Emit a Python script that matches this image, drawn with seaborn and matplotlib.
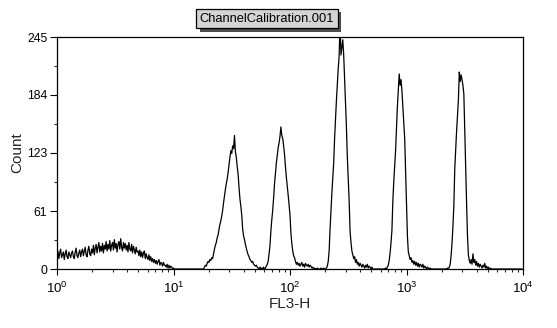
import numpy as np
import pandas as pd
import matplotlib
matplotlib.use("Agg")
import matplotlib.pyplot as plt
import matplotlib.patheffects as pe
import seaborn as sns
from matplotlib.ticker import FixedLocator, LogLocator, NullFormatter

# ---------------- data (1024-channel log histogram, 4 decades) ----------------
title_text = "ChannelCalibration.001"
x_label = "FL3-H"
y_label = "Count"
y_ticks = [0, 61, 123, 184, 245]
n_channels = 1024
n_decades = 4

# segments: start channel, counts every 2 channels
low_start = 0
low_counts = [13, 19, 11, 17, 21, 12, 15, 18, 10, 16, 20, 13, 11, 18, 15, 12, 17,
              19, 13, 11, 18, 22, 14, 12, 17, 20, 13, 18,
              21, 14, 19, 23, 15, 13, 20, 24, 16, 14, 21, 17, 25, 15,
              22, 26, 17, 23, 28, 18, 24, 19, 27, 17, 25, 21, 29, 19,
              26, 21, 30, 19, 25, 28, 20, 31, 22, 27, 18, 26, 29, 21, 32, 23, 19, 28, 22,
              27, 20, 25, 18, 28, 21, 19, 26, 17, 24, 20, 16, 23, 18,
              19, 14, 20, 13, 18, 12, 17, 19, 11, 16, 12, 10, 15, 9, 13, 8,
              11, 7, 10, 6, 9, 5, 8, 10, 4, 7, 6, 3, 7, 4,
              4, 2, 5, 1, 4, 1, 3, 2, 0, 1, 0, 0]

p1_start = 322
p1_counts = [0, 2, 4, 3, 6, 8, 7, 10, 9, 12, 11, 16, 21, 25, 28, 33, 36, 42, 47, 51,
             56, 62, 70, 77, 84, 90, 95, 102, 110, 118, 125, 122, 130, 127, 141, 124,
             118, 108, 100, 86, 74, 66, 57, 42, 35, 31, 26, 22, 18, 15, 13, 10, 9, 7,
             8, 5, 4, 3, 4, 2, 1, 0, 2, 0, 1, 0, 2, 0]

p2_start = 458
p2_counts = [1, 3, 5, 8, 16, 25, 40, 52, 62, 75, 90, 101, 112, 120, 128, 133, 140,
             150, 141, 138, 130, 121, 108, 97, 88, 78, 67, 57, 38, 27, 19, 14, 12, 8,
             5, 7, 4, 6, 3, 5, 7, 3, 5, 2, 6, 4, 3, 5, 2, 4, 3, 1, 2, 0, 1, 0, 0, 1,
             0, 0, 0, 1, 0, 0, 1, 0, 0]

p3_start = 592
p3_counts = [1, 3, 8, 19, 42, 62, 80, 97, 112, 138, 158, 178, 195, 212, 225, 262,
             226, 234, 242, 226, 200, 174, 150, 118, 95, 72, 40, 28, 19, 15, 11, 13,
             7, 10, 5, 7, 3, 6, 4, 2, 5, 3, 1, 4, 2, 5, 1, 3, 2, 0, 2, 0]

p4_start = 720
p4_counts = [0, 1, 0, 2, 4, 9, 17, 28, 41, 72, 92, 108, 125, 148, 172, 190, 206,
             194, 200, 188, 171, 155, 138, 105, 70, 35, 18, 14, 10, 12, 7, 9, 5, 8,
             4, 7, 3, 6, 2, 5, 4, 2, 5, 1, 3, 2, 0, 2, 1, 0, 1, 0]

p5_start = 856
p5_counts = [0, 1, 0, 2, 5, 14, 27, 45, 66, 105, 125, 145, 162, 178, 208, 198, 205,
             200, 194, 185, 146, 110, 70, 35, 15, 9, 6, 10, 5, 16, 7, 10, 4, 8, 3, 6,
             2, 5, 3, 1, 4, 2, 6, 1, 3, 0, 2, 0, 1, 0, 0]

end_start = 1022
end_counts = [0]

segments = [(low_start, low_counts), (p1_start, p1_counts), (p2_start, p2_counts),
            (p3_start, p3_counts), (p4_start, p4_counts), (p5_start, p5_counts),
            (end_start, end_counts)]

channels, counts = [], []
for start, vals in segments:
    channels.extend(start + 2 * np.arange(len(vals)))
    counts.extend(vals)
channels = np.array(channels, dtype=float)
fl3 = 10 ** (channels * n_decades / n_channels)
df = pd.DataFrame({"FL3-H": fl3, "Count": counts})

# ---------------- figure ----------------
sns.set_style("ticks")
plt.rcParams["font.family"] = ["Liberation Sans", "DejaVu Sans"]
plt.rcParams["mathtext.fontset"] = "custom"
plt.rcParams["mathtext.rm"] = "Liberation Sans"
plt.rcParams["mathtext.it"] = "Liberation Sans"

fig = plt.figure(figsize=(5.57, 3.28), dpi=100)
ax = fig.add_axes([57 / 557, 1 - 269 / 328, (523 - 57) / 557, (269 - 37) / 328])

sns.lineplot(data=df, x="FL3-H", y="Count", estimator=None, sort=False,
             color="black", linewidth=0.9, ax=ax)

ax.set_xscale("log")
ax.set_xlim(1, 10 ** n_decades)
ax.set_ylim(0, 245)
ax.xaxis.set_major_locator(LogLocator(base=10, numticks=10))
ax.xaxis.set_minor_locator(LogLocator(base=10, subs=np.arange(2, 10), numticks=20))
ax.xaxis.set_minor_formatter(NullFormatter())
ax.yaxis.set_major_locator(FixedLocator(y_ticks))
minor_y = [(a + b) / 2 for a, b in zip(y_ticks[:-1], y_ticks[1:])]
ax.yaxis.set_minor_locator(FixedLocator(minor_y))
ax.set_yticklabels([str(t) for t in y_ticks])

for s in ax.spines.values():
    s.set_visible(True)
    s.set_color("black")
    s.set_linewidth(0.9)

ax.tick_params(axis="x", which="major", length=4.5, width=0.8, direction="out",
               labelsize=9.5, pad=4, colors="black")
ax.tick_params(axis="x", which="minor", length=2.2, width=0.8, direction="out")
ax.tick_params(axis="y", which="major", length=5, width=0.8, direction="out",
               labelsize=8.8, pad=2, colors="black")
ax.tick_params(axis="y", which="minor", length=2.5, width=0.8, direction="out")

ax.set_xlabel(x_label, fontsize=11, labelpad=1)
ax.set_ylabel(y_label, fontsize=11, labelpad=2)

t = fig.text(267 / 557, 1 - 18.5 / 328, title_text, ha="center", va="center",
             fontsize=9.3, color="black",
             bbox=dict(boxstyle="square,pad=0.28", fc="#d4d4d4", ec="black", lw=0.9))
t.get_bbox_patch().set_path_effects([
    pe.SimplePatchShadow(offset=(2.5, -2.5), shadow_rgbFace="black", alpha=0.7),
    pe.Normal()])

fig.savefig("out.png", dpi=100)
